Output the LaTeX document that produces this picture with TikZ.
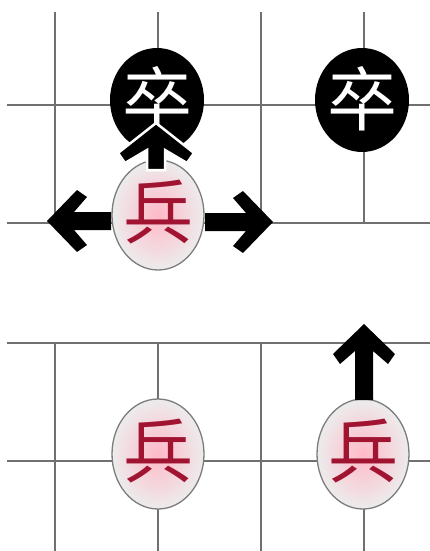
\documentclass[tikz,border=0pt]{standalone}
\usepackage{fontspec}
\usetikzlibrary{shapes.geometric}
\newfontfamily\cjk{Noto Sans CJK SC}
\newcommand\piecechar[1]{\raisebox{-0.36em}[0pt][0pt]{\makebox[0pt]{#1}}}
\definecolor{gridgray}{RGB}{112,112,112}
\definecolor{piecered}{RGB}{160,20,50}
\definecolor{pinkc}{RGB}{255,185,200}
\definecolor{rimgray}{RGB}{236,236,236}
\definecolor{rimline}{RGB}{125,125,125}
\tikzset{
  gridline/.style={draw=gridgray, line width=2.2pt},
  blackpiece/.style={ellipse, fill=black, minimum width=94pt, minimum height=104pt,
    inner sep=0pt, text=white, font=\cjk\fontsize{70}{70}\selectfont},
  redpiece/.style={ellipse, draw=rimline, line width=1.3pt, inner color=pinkc, outer color=rimgray,
    minimum width=92pt, minimum height=110pt, inner sep=0pt, text=piecered,
    font=\cjk\fontsize{70}{70}\selectfont},
  arrowbody/.style={fill=black},
  pics/movearrow/.style n args={3}{code={
    \filldraw[arrowbody,#3] (0,0) -- (#2,30) -- (#2-7,40) -- (9,27) -- (9,#1) -- (-9,#1)
      -- (-9,27) -- (-#2+7,40) -- (-#2,30) -- cycle;}}
}
\begin{document}
\begin{tikzpicture}[x=1pt,y=-1pt]
\useasboundingbox (0,0) rectangle (430,551);
\fill[white] (0,0) rectangle (430,551);
% upper board part
\foreach \x in {55,158,261,364} \draw[gridline] (\x,12) -- (\x,223);
\foreach \y in {105,223} \draw[gridline] (7,\y) -- (430,\y);
% lower board part
\foreach \x in {55,158,261,364} \draw[gridline] (\x,343) -- (\x,551);
\foreach \y in {343,461} \draw[gridline] (7,\y) -- (430,\y);
% pieces
\node[blackpiece] (zu1) at (157,100) {\piecechar{卒}};
\node[blackpiece] (zu2) at (362,100) {\piecechar{卒}};
\node[redpiece] (bing1) at (158,215) {\raisebox{4pt}{\piecechar{兵}}};
\node[redpiece] (bing2) at (158,454) {\raisebox{4pt}{\piecechar{兵}}};
\node[redpiece] (bing3) at (363,454) {\raisebox{4pt}{\piecechar{兵}}};
% move arrows
\pic[rotate=90] at (47,221) {movearrow={64}{31}{draw=none}};
\pic[rotate=-90] at (273,222) {movearrow={68}{31}{draw=none}};
\pic at (364,324) {movearrow={76}{31}{draw=none}};
\pic at (156,123) {movearrow={47}{38}{draw=white, line width=2.5pt}};
\end{tikzpicture}
\end{document}
